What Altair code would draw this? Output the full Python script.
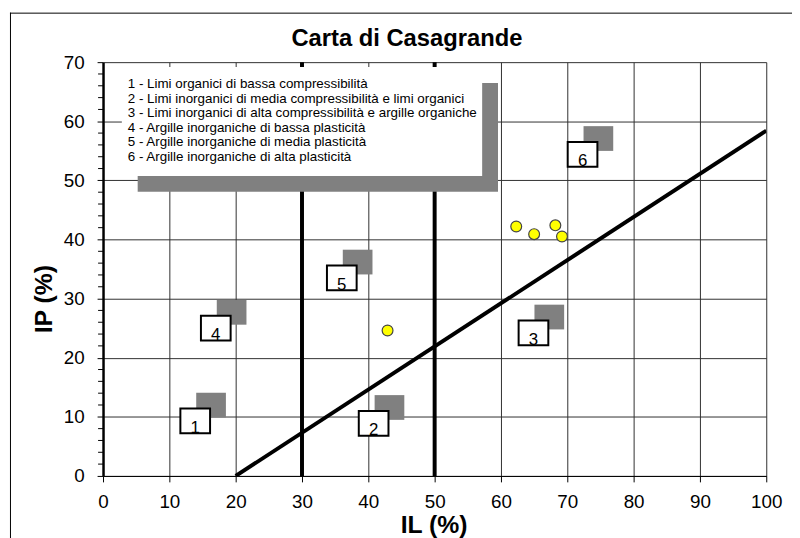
import altair as alt
import pandas as pd

# ---------------- data ----------------
chart_title = "Carta di Casagrande"
x_title = "IL (%)"
y_title = "IP (%)"

x_ticks = [0, 10, 20, 30, 40, 50, 60, 70, 80, 90, 100]
y_ticks = [0, 10, 20, 30, 40, 50, 60, 70]
y_minor = [2, 4, 6, 8, 12, 14, 16, 18, 22, 24, 26, 28, 32, 34, 36, 38,
           42, 44, 46, 48, 52, 54, 56, 58, 62, 64, 66, 68]

# campioni
sample_il = [62.3, 65.0, 68.2, 69.2, 42.9]
sample_ip = [42.2, 40.9, 42.4, 40.5, 24.6]

# linea A
aline_il = [20, 100]
aline_ip = [0, 58.4]

# limiti verticali
bound_il = [30, 50]
bound_ip_lo = [0, 0]
bound_ip_hi = [70, 70]

# etichette delle zone
zone_num = ["1", "2", "3", "4", "5", "6"]
zone_il = [13.9, 40.8, 64.9, 17.0, 36.0, 72.3]
zone_ip = [9.3, 8.9, 24.2, 25.0, 33.5, 54.4]

legend_lines = [
    "1 - Limi organici di bassa compressibilità",
    "2 - Limi inorganici di media compressibilità e limi organici",
    "3 - Limi inorganici di alta compressibilità e argille organiche",
    "4 - Argille inorganiche di bassa plasticità",
    "5 - Argille inorganiche di media plasticità",
    "6 - Argille inorganiche di alta plasticità",
]

# ---------------- style ----------------
FONT = "Liberation Sans"
GRID = "#303030"
GRAY = "#808080"
BOX_PATH = "M-1,-0.8333L1,-0.8333L1,0.8333L-1,0.8333Z"

xs = alt.Scale(domain=[0, 100], nice=False, zero=False)
ys = alt.Scale(domain=[0, 70], nice=False, zero=False)

x_axis = alt.Axis(
    values=x_ticks, labelPadding=26, labelBaseline="alphabetic",
    labelFlush=False, labelOverlap=False,
    title=x_title, titleX=334, titleY=57, titleAlign="center",
    titleBaseline="alphabetic", format="d",
)
y_axis = alt.Axis(
    values=y_ticks, labelPadding=13, labelBaseline="middle", labelAlign="right",
    labelFlush=False, labelOverlap=False,
    title=y_title, titleX=-52, titleY=239, titleAngle=270, titleAlign="center",
    titleBaseline="alphabetic", format="d",
)


def X(field):
    return alt.X(field, scale=xs, axis=x_axis)


def Y(field):
    return alt.Y(field, scale=ys, axis=y_axis)


one = alt.Data(values=[{"k": 0}])

df_bound = pd.DataFrame({"il": bound_il, "lo": bound_ip_lo, "hi": bound_ip_hi})
df_aline = pd.DataFrame({"il": aline_il, "ip": aline_ip})
df_minor = pd.DataFrame({"ip": y_minor})
df_zone = pd.DataFrame({"il": zone_il, "ip": zone_ip, "num": zone_num})
df_samp = pd.DataFrame({"il": sample_il, "ip": sample_ip})

bounds = alt.Chart(df_bound).mark_rule(color="black", strokeWidth=4).encode(
    x=X("il:Q"), y=Y("lo:Q"), y2="hi:Q",
)

aline = alt.Chart(df_aline).mark_line(color="black", strokeWidth=4, clip=True).encode(
    x=X("il:Q"), y=Y("ip:Q"),
)

minor = alt.Chart(df_minor).mark_rule(color="black", strokeWidth=1).encode(
    y=Y("ip:Q"), x=alt.value(-5), x2=alt.value(0),
)

zone_shadow = alt.Chart(df_zone).mark_point(
    shape=BOX_PATH, size=900, filled=True, fill=GRAY, strokeWidth=0,
    opacity=1, xOffset=16, yOffset=-16,
).encode(x=X("il:Q"), y=Y("ip:Q"))
zone_box = alt.Chart(df_zone).mark_point(
    shape=BOX_PATH, size=900, filled=True, fill="white", stroke="black",
    strokeWidth=2, opacity=1,
).encode(x=X("il:Q"), y=Y("ip:Q"))
zone_text = alt.Chart(df_zone).mark_text(
    font=FONT, fontSize=17, color="black", align="center",
    baseline="alphabetic", dy=12,
).encode(text="num:N", x=X("il:Q"), y=Y("ip:Q"))

samples = alt.Chart(df_samp).mark_point(
    shape="circle", size=120, filled=True, fill="#FFFF00", stroke="#444444",
    strokeWidth=1.2, opacity=1,
).encode(x=X("il:Q"), y=Y("ip:Q"))

leg_shadow = alt.Chart(one).mark_rect(fill=GRAY).encode(
    x=alt.value(35), x2=alt.value(399), y=alt.value(21), y2=alt.value(131)
)
leg_box = alt.Chart(one).mark_rect(fill="white").encode(
    x=alt.value(19), x2=alt.value(383), y=alt.value(5), y2=alt.value(115)
)
leg_text = alt.Chart(one).mark_text(
    text=legend_lines, font=FONT, fontSize=13.5, color="black", align="left",
    baseline="alphabetic", lineHeight=14.8,
).encode(x=alt.value(25), y=alt.value(26))

title_mark = alt.Chart(one).mark_text(
    text=chart_title, font=FONT, fontSize=24, fontWeight="bold", color="black",
    align="center", baseline="alphabetic",
).encode(x=alt.value(307), y=alt.value(-16))

frame_top = alt.Chart(one).mark_rule(color="black", strokeWidth=1).encode(
    x=alt.value(-94), x2=alt.value(720), y=alt.value(-49.5)
)
frame_left = alt.Chart(one).mark_rule(color="black", strokeWidth=1).encode(
    x=alt.value(-93.5), y=alt.value(-50), y2=alt.value(490)
)

chart = alt.layer(
    bounds, aline, minor, zone_shadow, zone_box, zone_text, samples,
    leg_shadow, leg_box, leg_text, title_mark, frame_top, frame_left,
).properties(
    width=670,
    height=418,
    padding={"left": 96, "top": 52, "right": 26, "bottom": 60},
    autosize=alt.AutoSizeParams(type="none"),
    background="white",
).configure_view(
    stroke=None
).configure_axis(
    grid=True, gridColor=GRID, gridWidth=1, gridOpacity=1,
    domainColor="black", domainWidth=1, domainOpacity=1,
    tickColor="black", tickSize=6, tickWidth=1, tickOpacity=1,
    labelFont=FONT, labelFontSize=19, labelColor="black",
    titleFont=FONT, titleFontSize=25, titleFontWeight="bold", titleColor="black",
).configure_axisY(
    domainWidth=2.5,
)

chart.save("out.html", embed_options={"renderer": "svg", "actions": False})
